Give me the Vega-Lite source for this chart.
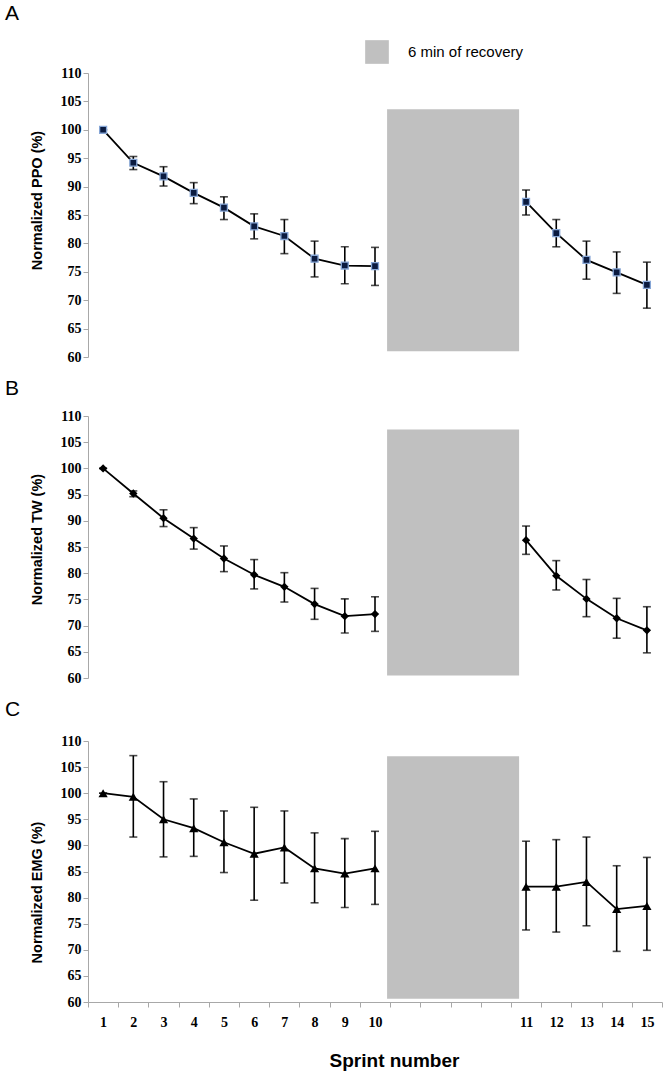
{
  "$schema": "https://vega.github.io/schema/vega-lite/v6.json",
  "background": "white",
  "padding": {"left": 5, "top": 3, "right": 2, "bottom": 5},
  "datasets": {
    "ppo": [
      {"sprint": "1", "block": "pre", "mean": 100.0, "lo": 100.0, "hi": 100.0},
      {"sprint": "2", "block": "pre", "mean": 94.2, "lo": 93.0, "hi": 95.3},
      {"sprint": "3", "block": "pre", "mean": 91.8, "lo": 90.1, "hi": 93.5},
      {"sprint": "4", "block": "pre", "mean": 88.9, "lo": 87.0, "hi": 90.7},
      {"sprint": "5", "block": "pre", "mean": 86.3, "lo": 84.2, "hi": 88.2},
      {"sprint": "6", "block": "pre", "mean": 83.0, "lo": 80.8, "hi": 85.2},
      {"sprint": "7", "block": "pre", "mean": 81.3, "lo": 78.2, "hi": 84.2},
      {"sprint": "8", "block": "pre", "mean": 77.3, "lo": 74.1, "hi": 80.4},
      {"sprint": "9", "block": "pre", "mean": 76.1, "lo": 72.9, "hi": 79.4},
      {"sprint": "10", "block": "pre", "mean": 76.0, "lo": 72.6, "hi": 79.3},
      {"sprint": "11", "block": "post", "mean": 87.3, "lo": 85.0, "hi": 89.4},
      {"sprint": "12", "block": "post", "mean": 81.8, "lo": 79.4, "hi": 84.2},
      {"sprint": "13", "block": "post", "mean": 77.1, "lo": 73.7, "hi": 80.4},
      {"sprint": "14", "block": "post", "mean": 74.9, "lo": 71.2, "hi": 78.5},
      {"sprint": "15", "block": "post", "mean": 72.7, "lo": 68.6, "hi": 76.7}
    ],
    "tw": [
      {"sprint": "1", "block": "pre", "mean": 100.0, "lo": 100.0, "hi": 100.0},
      {"sprint": "2", "block": "pre", "mean": 95.2, "lo": 94.6, "hi": 95.7},
      {"sprint": "3", "block": "pre", "mean": 90.5, "lo": 88.9, "hi": 92.1},
      {"sprint": "4", "block": "pre", "mean": 86.6, "lo": 84.6, "hi": 88.7},
      {"sprint": "5", "block": "pre", "mean": 82.8, "lo": 80.3, "hi": 85.2},
      {"sprint": "6", "block": "pre", "mean": 79.7, "lo": 77.0, "hi": 82.6},
      {"sprint": "7", "block": "pre", "mean": 77.4, "lo": 74.5, "hi": 80.1},
      {"sprint": "8", "block": "pre", "mean": 74.1, "lo": 71.2, "hi": 77.1},
      {"sprint": "9", "block": "pre", "mean": 71.8, "lo": 68.6, "hi": 75.1},
      {"sprint": "10", "block": "pre", "mean": 72.2, "lo": 68.9, "hi": 75.5},
      {"sprint": "11", "block": "post", "mean": 86.3, "lo": 83.6, "hi": 89.0},
      {"sprint": "12", "block": "post", "mean": 79.5, "lo": 76.8, "hi": 82.4},
      {"sprint": "13", "block": "post", "mean": 75.1, "lo": 71.7, "hi": 78.8},
      {"sprint": "14", "block": "post", "mean": 71.4, "lo": 67.6, "hi": 75.2},
      {"sprint": "15", "block": "post", "mean": 69.1, "lo": 64.8, "hi": 73.6}
    ],
    "emg": [
      {"sprint": "1", "block": "pre", "mean": 100.0, "lo": 100.0, "hi": 100.0},
      {"sprint": "2", "block": "pre", "mean": 99.3, "lo": 91.6, "hi": 107.2},
      {"sprint": "3", "block": "pre", "mean": 95.0, "lo": 87.8, "hi": 102.2},
      {"sprint": "4", "block": "pre", "mean": 93.3, "lo": 87.9, "hi": 98.9},
      {"sprint": "5", "block": "pre", "mean": 90.6, "lo": 84.8, "hi": 96.6},
      {"sprint": "6", "block": "pre", "mean": 88.4, "lo": 79.5, "hi": 97.3},
      {"sprint": "7", "block": "pre", "mean": 89.6, "lo": 82.8, "hi": 96.6},
      {"sprint": "8", "block": "pre", "mean": 85.6, "lo": 79.0, "hi": 92.4},
      {"sprint": "9", "block": "pre", "mean": 84.6, "lo": 78.1, "hi": 91.3},
      {"sprint": "10", "block": "pre", "mean": 85.6, "lo": 78.7, "hi": 92.7},
      {"sprint": "11", "block": "post", "mean": 82.1, "lo": 73.8, "hi": 90.8},
      {"sprint": "12", "block": "post", "mean": 82.1, "lo": 73.4, "hi": 91.1},
      {"sprint": "13", "block": "post", "mean": 83.0, "lo": 74.6, "hi": 91.6},
      {"sprint": "14", "block": "post", "mean": 77.8, "lo": 69.7, "hi": 86.1},
      {"sprint": "15", "block": "post", "mean": 78.4, "lo": 69.9, "hi": 87.7}
    ],
    "recoveryA": [{"label": "6 min of recovery", "start": 9.9, "end": 14.27, "bottom": 61.0, "top": 103.6}],
    "recoveryB": [{"label": "6 min of recovery", "start": 9.9, "end": 14.27, "bottom": 60.5, "top": 107.4}],
    "recoveryC": [{"label": "6 min of recovery", "start": 9.9, "end": 14.27, "bottom": 60.6, "top": 107.1}]
  },
  "config": {
    "view": {"stroke": null},
    "axis": {
      "grid": false,
      "domainColor": "#a8a8a8",
      "tickColor": "#a8a8a8",
      "tickSize": 5,
      "labelFont": "Liberation Serif",
      "labelFontWeight": "bold",
      "labelFontSize": 14,
      "labelColor": "#000000",
      "titleFont": "Liberation Sans",
      "titleFontWeight": "bold",
      "titleColor": "#000000"
    },
    "title": {"anchor": "start", "frame": "group", "font": "Liberation Sans", "fontSize": 21, "fontWeight": "normal", "color": "#000000", "dx": -83}
  },
  "spacing": 14,
  "resolve": {"scale": {"color": "independent"}, "legend": {"color": "independent"}},
  "vconcat": [
    {
      "title": {"text": "A", "offset": 16},
      "width": 574,
      "height": 284,
      "resolve": {"scale": {"x": "independent"}},
      "layer": [
        {
          "data": {"name": "recoveryA"},
          "mark": {"type": "rect", "opacity": 1},
          "encoding": {
            "x": {"field": "start", "type": "quantitative", "scale": {"domain": [0, 19], "nice": false, "zero": false}, "axis": null},
            "x2": {"field": "end"},
            "y": {"field": "bottom", "type": "quantitative", "scale": {"domain": [60, 110], "nice": false, "zero": false},
              "axis": {"title": "Normalized PPO (%)", "titleFontSize": 14.5, "values": [60,65,70,75,80,85,90,95,100,105,110], "labelOverlap": false, "titleAngle": -90, "titleX": -51, "titleY": 127, "titleAlign": "center", "titleBaseline": "middle"}},
            "y2": {"field": "top"},
            "color": {"field": "label", "type": "nominal", "scale": {"range": ["#c0c0c0"]},
              "legend": {"title": null, "orient": "none", "legendX": 277, "legendY": -33, "symbolType": "square", "symbolSize": 560, "symbolStrokeWidth": 0, "symbolOpacity": 1, "labelFont": "Liberation Sans", "labelFontSize": 15, "labelColor": "#000000", "labelOffset": 19, "padding": 0}}
          }
        },
        {
          "data": {"name": "ppo"},
          "encoding": {
            "x": {"field": "sprint", "type": "ordinal", "scale": {"type": "band", "domain": ["1","2","3","4","5","6","7","8","9","10","r1","r2","r3","r4","11","12","13","14","15"], "paddingInner": 0, "paddingOuter": 0}, "axis": null}
          },
          "layer": [
            {"mark": {"type": "line", "color": "#000000", "strokeWidth": 1.8},
             "encoding": {"detail": {"field": "block"}, "y": {"field": "mean", "type": "quantitative", "axis": {"title": "Normalized PPO (%)", "titleFontSize": 14.5, "values": [60,65,70,75,80,85,90,95,100,105,110], "labelOverlap": false, "titleAngle": -90, "titleX": -51, "titleY": 127, "titleAlign": "center", "titleBaseline": "middle"}}}},
            {"mark": {"type": "rule", "color": "#000000", "strokeWidth": 1.6}, "encoding": {"y": {"field": "lo", "type": "quantitative", "axis": {"title": "Normalized PPO (%)", "titleFontSize": 14.5, "values": [60,65,70,75,80,85,90,95,100,105,110], "labelOverlap": false, "titleAngle": -90, "titleX": -51, "titleY": 127, "titleAlign": "center", "titleBaseline": "middle"}}, "y2": {"field": "hi"}}},
            {"mark": {"type": "tick", "color": "#000000", "thickness": 1.6, "size": 8}, "encoding": {"y": {"field": "hi", "type": "quantitative", "axis": {"title": "Normalized PPO (%)", "titleFontSize": 14.5, "values": [60,65,70,75,80,85,90,95,100,105,110], "labelOverlap": false, "titleAngle": -90, "titleX": -51, "titleY": 127, "titleAlign": "center", "titleBaseline": "middle"}}}},
            {"mark": {"type": "tick", "color": "#000000", "thickness": 1.6, "size": 8}, "encoding": {"y": {"field": "lo", "type": "quantitative", "axis": {"title": "Normalized PPO (%)", "titleFontSize": 14.5, "values": [60,65,70,75,80,85,90,95,100,105,110], "labelOverlap": false, "titleAngle": -90, "titleX": -51, "titleY": 127, "titleAlign": "center", "titleBaseline": "middle"}}}},
            {"mark": {"type": "point", "shape": "square", "filled": true, "size": 48, "fill": "#0b1b40", "stroke": "#86a6d6", "strokeWidth": 1.3, "opacity": 1}, "encoding": {"y": {"field": "mean", "type": "quantitative", "axis": {"title": "Normalized PPO (%)", "titleFontSize": 14.5, "values": [60,65,70,75,80,85,90,95,100,105,110], "labelOverlap": false, "titleAngle": -90, "titleX": -51, "titleY": 127, "titleAlign": "center", "titleBaseline": "middle"}}}}
          ]
        }
      ]
    },
    {
      "title": {"text": "B", "offset": 10},
      "width": 574,
      "height": 262,
      "resolve": {"scale": {"x": "independent"}},
      "layer": [
        {
          "data": {"name": "recoveryB"},
          "mark": {"type": "rect", "color": "#c0c0c0", "opacity": 1},
          "encoding": {
            "x": {"field": "start", "type": "quantitative", "scale": {"domain": [0, 19], "nice": false, "zero": false}, "axis": null},
            "x2": {"field": "end"},
            "y": {"field": "bottom", "type": "quantitative", "scale": {"domain": [60, 110], "nice": false, "zero": false},
              "axis": {"title": "Normalized TW (%)", "titleFontSize": 14.5, "values": [60,65,70,75,80,85,90,95,100,105,110], "labelOverlap": false, "titleAngle": -90, "titleX": -51, "titleY": 123, "titleAlign": "center", "titleBaseline": "middle"}},
            "y2": {"field": "top"}
          }
        },
        {
          "data": {"name": "tw"},
          "encoding": {
            "x": {"field": "sprint", "type": "ordinal", "scale": {"type": "band", "domain": ["1","2","3","4","5","6","7","8","9","10","r1","r2","r3","r4","11","12","13","14","15"], "paddingInner": 0, "paddingOuter": 0}, "axis": null}
          },
          "layer": [
            {"mark": {"type": "line", "color": "#000000", "strokeWidth": 1.8},
             "encoding": {"detail": {"field": "block"}, "y": {"field": "mean", "type": "quantitative", "axis": {"title": "Normalized TW (%)", "titleFontSize": 14.5, "values": [60,65,70,75,80,85,90,95,100,105,110], "labelOverlap": false, "titleAngle": -90, "titleX": -51, "titleY": 123, "titleAlign": "center", "titleBaseline": "middle"}}}},
            {"mark": {"type": "rule", "color": "#000000", "strokeWidth": 1.6}, "encoding": {"y": {"field": "lo", "type": "quantitative", "axis": {"title": "Normalized TW (%)", "titleFontSize": 14.5, "values": [60,65,70,75,80,85,90,95,100,105,110], "labelOverlap": false, "titleAngle": -90, "titleX": -51, "titleY": 123, "titleAlign": "center", "titleBaseline": "middle"}}, "y2": {"field": "hi"}}},
            {"mark": {"type": "tick", "color": "#000000", "thickness": 1.6, "size": 8}, "encoding": {"y": {"field": "hi", "type": "quantitative", "axis": {"title": "Normalized TW (%)", "titleFontSize": 14.5, "values": [60,65,70,75,80,85,90,95,100,105,110], "labelOverlap": false, "titleAngle": -90, "titleX": -51, "titleY": 123, "titleAlign": "center", "titleBaseline": "middle"}}}},
            {"mark": {"type": "tick", "color": "#000000", "thickness": 1.6, "size": 8}, "encoding": {"y": {"field": "lo", "type": "quantitative", "axis": {"title": "Normalized TW (%)", "titleFontSize": 14.5, "values": [60,65,70,75,80,85,90,95,100,105,110], "labelOverlap": false, "titleAngle": -90, "titleX": -51, "titleY": 123, "titleAlign": "center", "titleBaseline": "middle"}}}},
            {"mark": {"type": "point", "shape": "diamond", "filled": true, "size": 70, "color": "#000000", "opacity": 1}, "encoding": {"y": {"field": "mean", "type": "quantitative", "axis": {"title": "Normalized TW (%)", "titleFontSize": 14.5, "values": [60,65,70,75,80,85,90,95,100,105,110], "labelOverlap": false, "titleAngle": -90, "titleX": -51, "titleY": 123, "titleAlign": "center", "titleBaseline": "middle"}}}}
          ]
        }
      ]
    },
    {
      "title": {"text": "C", "offset": 14},
      "width": 574,
      "height": 261,
      "resolve": {"scale": {"x": "independent"}},
      "layer": [
        {
          "data": {"name": "recoveryC"},
          "mark": {"type": "rect", "color": "#c0c0c0", "opacity": 1},
          "encoding": {
            "x": {"field": "start", "type": "quantitative", "scale": {"domain": [0, 19], "nice": false, "zero": false}, "axis": null},
            "x2": {"field": "end"},
            "y": {"field": "bottom", "type": "quantitative", "scale": {"domain": [60, 110], "nice": false, "zero": false},
              "axis": {"title": "Normalized EMG (%)", "titleFontSize": 14.5, "values": [60,65,70,75,80,85,90,95,100,105,110], "labelOverlap": false, "titleAngle": -90, "titleX": -51, "titleY": 151, "titleAlign": "center", "titleBaseline": "middle"}},
            "y2": {"field": "top"}
          }
        },
        {
          "data": {"name": "emg"},
          "encoding": {
            "x": {"field": "sprint", "type": "ordinal", "scale": {"type": "band", "domain": ["1","2","3","4","5","6","7","8","9","10","r1","r2","r3","r4","11","12","13","14","15"], "paddingInner": 0, "paddingOuter": 0},
              "axis": {"title": "Sprint number", "titleFontSize": 19, "labelAngle": 0, "tickBand": "extent", "labelPadding": 8, "labelExpr": "indexof(['r1','r2','r3','r4'], datum.value) >= 0 ? '' : datum.value", "titleX": 306, "titleY": 58, "titleAlign": "center", "titleBaseline": "middle"}}
          },
          "layer": [
            {"mark": {"type": "line", "color": "#000000", "strokeWidth": 1.8},
             "encoding": {"detail": {"field": "block"}, "y": {"field": "mean", "type": "quantitative", "axis": {"title": "Normalized EMG (%)", "titleFontSize": 14.5, "values": [60,65,70,75,80,85,90,95,100,105,110], "labelOverlap": false, "titleAngle": -90, "titleX": -51, "titleY": 151, "titleAlign": "center", "titleBaseline": "middle"}}}},
            {"mark": {"type": "rule", "color": "#000000", "strokeWidth": 1.6}, "encoding": {"y": {"field": "lo", "type": "quantitative", "axis": {"title": "Normalized EMG (%)", "titleFontSize": 14.5, "values": [60,65,70,75,80,85,90,95,100,105,110], "labelOverlap": false, "titleAngle": -90, "titleX": -51, "titleY": 151, "titleAlign": "center", "titleBaseline": "middle"}}, "y2": {"field": "hi"}}},
            {"mark": {"type": "tick", "color": "#000000", "thickness": 1.6, "size": 8}, "encoding": {"y": {"field": "hi", "type": "quantitative", "axis": {"title": "Normalized EMG (%)", "titleFontSize": 14.5, "values": [60,65,70,75,80,85,90,95,100,105,110], "labelOverlap": false, "titleAngle": -90, "titleX": -51, "titleY": 151, "titleAlign": "center", "titleBaseline": "middle"}}}},
            {"mark": {"type": "tick", "color": "#000000", "thickness": 1.6, "size": 8}, "encoding": {"y": {"field": "lo", "type": "quantitative", "axis": {"title": "Normalized EMG (%)", "titleFontSize": 14.5, "values": [60,65,70,75,80,85,90,95,100,105,110], "labelOverlap": false, "titleAngle": -90, "titleX": -51, "titleY": 151, "titleAlign": "center", "titleBaseline": "middle"}}}},
            {"mark": {"type": "point", "shape": "triangle-up", "filled": true, "size": 85, "color": "#000000", "opacity": 1}, "encoding": {"y": {"field": "mean", "type": "quantitative", "axis": {"title": "Normalized EMG (%)", "titleFontSize": 14.5, "values": [60,65,70,75,80,85,90,95,100,105,110], "labelOverlap": false, "titleAngle": -90, "titleX": -51, "titleY": 151, "titleAlign": "center", "titleBaseline": "middle"}}}}
          ]
        }
      ]
    }
  ]
}
